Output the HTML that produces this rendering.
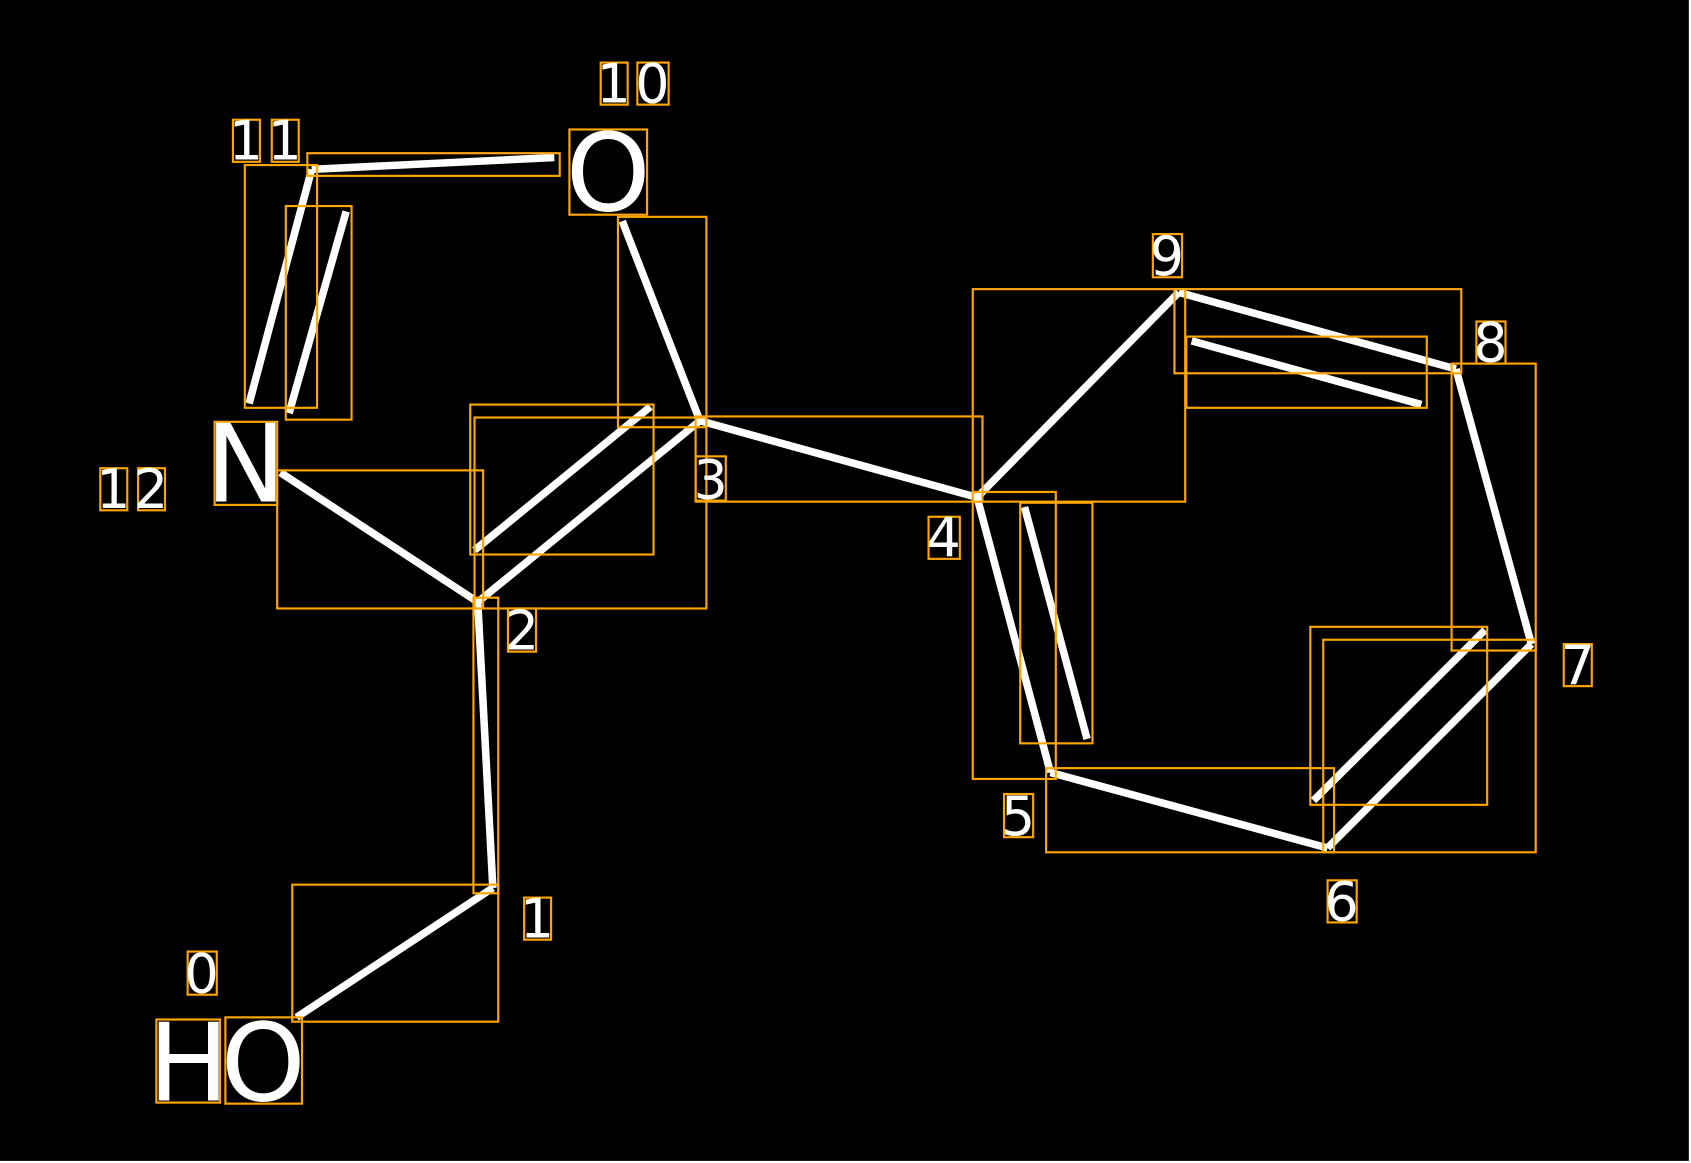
<!DOCTYPE html>
<html><head><meta charset="utf-8"><style>
html,body{margin:0;padding:0;background:#000;}
svg{display:block}
text{font-family:"DejaVu Sans","Liberation Sans",sans-serif;fill:#fff;}
</style></head><body>
<svg width="1691" height="1163" viewBox="0 0 1568 1078" preserveAspectRatio="none" xmlns="http://www.w3.org/2000/svg">
<rect x="0" y="0" width="1568" height="1078" fill="#000"/>
<line x1="1567" y1="0" x2="1567" y2="1078" stroke="#fff" stroke-width="2"/>
<line x1="0" y1="1077" x2="1568" y2="1077" stroke="#fff" stroke-width="2"/>
<g stroke="#fff" stroke-width="7" stroke-linecap="butt" fill="none">
<line x1="275" y1="943" x2="457" y2="823"/>
<line x1="457" y1="823" x2="443" y2="558"/>
<line x1="443" y1="558" x2="260" y2="438"/>
<line x1="443" y1="558" x2="649" y2="390"/>
<line x1="440" y1="510" x2="603" y2="377"/>
<line x1="649" y1="390" x2="577" y2="205"/>
<line x1="649" y1="390" x2="906" y2="461"/>
<line x1="906" y1="461" x2="1093" y2="271"/>
<line x1="1093" y1="271" x2="1350" y2="342"/>
<line x1="1105" y1="316" x2="1318" y2="375"/>
<line x1="1350" y1="342" x2="1420" y2="597"/>
<line x1="1420" y1="597" x2="1231" y2="786"/>
<line x1="1218" y1="742" x2="1377" y2="584"/>
<line x1="1231" y1="786" x2="974" y2="716"/>
<line x1="974" y1="716" x2="906" y2="461"/>
<line x1="950" y1="470" x2="1008" y2="685"/>
<line x1="289" y1="157" x2="514" y2="146"/>
<line x1="231" y1="374" x2="289" y2="157"/>
<line x1="268" y1="383" x2="321" y2="196"/>
</g>
<g stroke="#FFA500" stroke-width="2" fill="none">
<rect x="216" y="111" width="25" height="39"/><rect x="252" y="111" width="25" height="39"/>
<rect x="557" y="58" width="25" height="39"/><rect x="591" y="58" width="29" height="39"/>
<rect x="528" y="120" width="72" height="79"/>
<rect x="1069" y="217" width="27" height="40"/>
<rect x="1369" y="298" width="27" height="39"/>
<rect x="1450" y="597" width="26" height="39"/>
<rect x="1231" y="816" width="27" height="39"/>
<rect x="931" y="736" width="27" height="40"/>
<rect x="861" y="479" width="29" height="39"/>
<rect x="645" y="423" width="28" height="41"/>
<rect x="471" y="564" width="26" height="40"/>
<rect x="486" y="832" width="25" height="39"/>
<rect x="174" y="882" width="27" height="40"/>
<rect x="145" y="945" width="59" height="77"/><rect x="209" y="943" width="71" height="80"/>
<rect x="93" y="434" width="25" height="39"/><rect x="128" y="434" width="25" height="39"/>
<rect x="199" y="391" width="58" height="77"/>
<rect x="285" y="142" width="234" height="21"/>
<rect x="227" y="153" width="67" height="225"/>
<rect x="265" y="191" width="61" height="198"/>
<rect x="573" y="201" width="82" height="195"/>
<rect x="257" y="436" width="191" height="128"/>
<rect x="440" y="387" width="215" height="177"/>
<rect x="436" y="375" width="170" height="139"/>
<rect x="645" y="386" width="266" height="79"/>
<rect x="439" y="554" width="23" height="274"/>
<rect x="271" y="820" width="191" height="127"/>
<rect x="902" y="268" width="197" height="197"/>
<rect x="1089" y="268" width="266" height="78"/>
<rect x="1100" y="312" width="223" height="66"/>
<rect x="1346" y="337" width="78" height="266"/>
<rect x="1227" y="593" width="197" height="197"/>
<rect x="1215" y="581" width="164" height="165"/>
<rect x="970" y="712" width="267" height="78"/>
<rect x="902" y="456" width="77" height="266"/>
<rect x="946" y="466" width="67" height="223"/>
</g>
<g font-size="50" text-anchor="middle">
<text x="228" y="148">1</text><text x="264" y="148">1</text>
<text x="569" y="95">1</text><text x="605" y="95">0</text>
<text x="1082" y="255">9</text>
<text x="1382" y="335">8</text>
<text x="1463" y="634">7</text>
<text x="1244" y="853">6</text>
<text x="944" y="774">5</text>
<text x="875" y="516">4</text>
<text x="659" y="462">3</text>
<text x="484" y="602">2</text>
<text x="498" y="869">1</text>
<text x="187" y="920">0</text>
<text x="105" y="471">1</text><text x="140" y="471">2</text>
</g>
<g font-size="100" text-anchor="middle">
<text x="564" y="195">O</text>
<text x="228" y="465">N</text>
<text x="175" y="1020">H</text>
<text x="244" y="1020">O</text>
</g>
</svg>
</body></html>
